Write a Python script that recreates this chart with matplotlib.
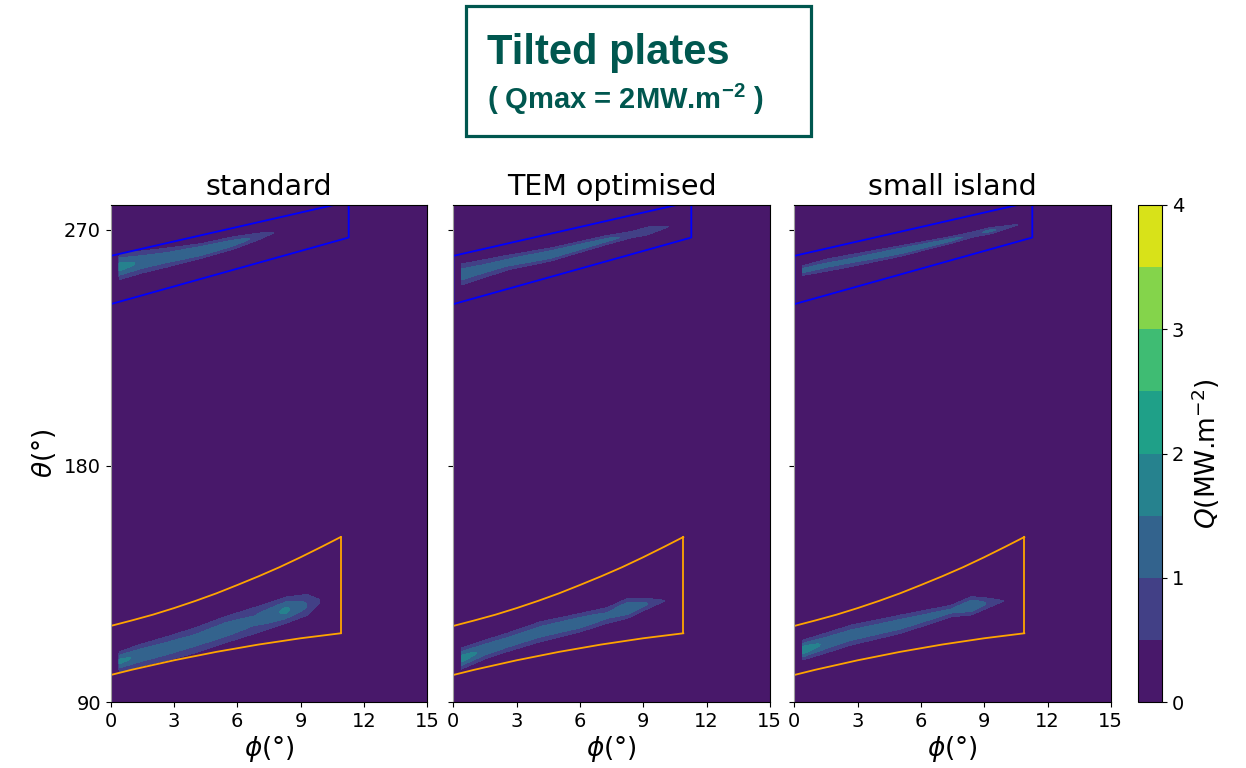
import numpy as np
import matplotlib
matplotlib.use("Agg")
import matplotlib.pyplot as plt
from matplotlib.patches import Rectangle

plt.rcParams["mathtext.fontset"] = "dejavusans"
plt.rcParams["mathtext.rm"] = "Liberation Sans:bold"
plt.rcParams["mathtext.it"] = "Liberation Sans:bold"
plt.rcParams["mathtext.bf"] = "Liberation Sans:bold"

# ---------------------------------------------------------------- data
panel_titles = ["standard", "TEM optimised", "small island"]
q_levels = [0, 0.5, 1, 1.5, 2, 2.5, 3, 3.5, 4]
q_ticks = [0, 1, 2, 3, 4]
phi_ticks = [0, 3, 6, 9, 12, 15]
theta_ticks = [90, 180, 270]

# outline of the upper (blue) plate, (phi, theta) corners
blue_phi = [0.0, 11.28, 11.28, 0.0, 0.0]
blue_theta = [241.7, 267.1, 280.8, 260.1, 241.7]

# outline of the lower (orange) plate
orange_phi = [0, 1, 2, 3, 4, 5, 6, 7, 8, 9, 10, 10.9]
orange_upper = [119.0, 121.1, 123.3, 125.8, 128.5, 131.4, 134.6, 137.9, 141.4, 145.2, 149.2, 152.9]
orange_lower = [100.3, 102.3, 104.1, 105.9, 107.5, 109.1, 110.5, 111.9, 113.1, 114.3, 115.3, 116.2]

# heat-flux footprints: centre line, half width (at 0.5 MW/m2) and peak value
std_top_phi = [0.4, 1.5, 2.7, 4.3, 5.8, 7.0, 7.7]
std_top_centre = [256.0, 257.8, 259.5, 262.0, 265.0, 267.5, 268.9]
std_top_hw = [5.0, 4.2, 3.6, 2.8, 2.4, 1.3, 0.15]
std_top_peak = [1.7, 1.4, 1.3, 1.5, 1.2, 0.9, 0.6]

std_bot_phi = [0.4, 1.5, 2.7, 4.0, 5.4, 6.8, 8.3, 9.3, 9.9]
std_bot_centre = [105.4, 108.0, 110.5, 113.5, 117.5, 121.0, 125.0, 127.0, 128.5]
std_bot_hw = [3.8, 4.2, 4.5, 4.8, 5.0, 5.0, 5.0, 4.0, 0.6]
std_bot_peak = [1.6, 1.4, 1.3, 1.2, 1.3, 1.1, 1.6, 1.0, 0.6]

tem_top_phi = [0.37, 1.5, 2.55, 4.6, 7.3, 8.5, 9.2, 10.2]
tem_top_centre = [253.0, 255.3, 257.5, 260.6, 266.2, 268.3, 269.6, 271.3]
tem_top_hw = [4.0, 3.4, 2.8, 2.5, 1.7, 1.2, 1.5, 0.15]
tem_top_peak = [1.3, 1.2, 1.2, 1.4, 1.1, 0.9, 1.0, 0.6]

tem_bot_phi = [0.37, 1.5, 2.55, 4.13, 6.03, 7.3, 8.25, 9.2, 10.0]
tem_bot_centre = [106.5, 110.0, 112.7, 116.8, 120.3, 123.0, 125.7, 127.5, 128.6]
tem_bot_hw = [4.0, 3.6, 3.5, 3.8, 3.5, 3.0, 3.8, 2.0, 0.2]
tem_bot_peak = [1.7, 1.4, 1.3, 1.3, 1.4, 1.1, 1.5, 1.0, 0.6]

isl_top_phi = [0.4, 1.5, 2.69, 5.06, 7.44, 8.5, 9.3, 10.6]
isl_top_centre = [254.5, 256.5, 258.3, 262.0, 266.2, 268.3, 269.7, 272.0]
isl_top_hw = [1.8, 2.3, 2.3, 2.0, 1.3, 1.0, 1.2, 0.12]
isl_top_peak = [1.2, 1.1, 1.1, 1.3, 1.1, 0.9, 1.1, 0.6]

isl_bot_phi = [0.4, 1.5, 2.69, 5.06, 7.44, 8.4, 9.2, 9.9]
isl_bot_centre = [109.8, 112.5, 115.5, 119.7, 124.7, 126.7, 127.8, 128.5]
isl_bot_hw = [3.8, 3.8, 3.8, 3.5, 2.2, 3.5, 1.8, 0.15]
isl_bot_peak = [1.8, 1.4, 1.3, 1.3, 1.1, 1.5, 0.9, 0.6]

panels = [
    [(std_top_phi, std_top_centre, std_top_hw, std_top_peak),
     (std_bot_phi, std_bot_centre, std_bot_hw, std_bot_peak)],
    [(tem_top_phi, tem_top_centre, tem_top_hw, tem_top_peak),
     (tem_bot_phi, tem_bot_centre, tem_bot_hw, tem_bot_peak)],
    [(isl_top_phi, isl_top_centre, isl_top_hw, isl_top_peak),
     (isl_bot_phi, isl_bot_centre, isl_bot_hw, isl_bot_peak)],
]

# ---------------------------------------------------------------- grid
phi = np.linspace(0, 15, 751)
theta = np.linspace(90, 280, 951)
PHI, THETA = np.meshgrid(phi, theta)


def footprint(p, c, hw, pk):
    peak = np.interp(phi, p, pk, left=0.0, right=0.0)
    centre = np.interp(phi, p, c)
    half = np.interp(phi, p, hw)
    d = (THETA - centre[None, :]) / half[None, :]
    pk2 = np.maximum(peak, 1e-6)[None, :]
    q = pk2 * np.exp(d ** 2 * np.log(0.5 / np.maximum(pk2, 0.501)))
    q[:, peak <= 0] = 0.0
    return q


# ---------------------------------------------------------------- figure
fig = plt.figure(figsize=(12.46, 7.68), dpi=100)
W, H = 1246.0, 768.0
lefts = [110.7, 453.3, 794.3]
ax_w = 316.5
ax_top, ax_bot = 205.0, 702.0

cmap = plt.get_cmap("viridis")
cs = None
for i, (title, stripes) in enumerate(zip(panel_titles, panels)):
    ax = fig.add_axes([lefts[i] / W, 1 - ax_bot / H, ax_w / W, (ax_bot - ax_top) / H])
    Q = np.zeros_like(PHI)
    for s in stripes:
        Q = np.maximum(Q, footprint(*s))
    cs = ax.contourf(PHI, THETA, Q, levels=q_levels, cmap=cmap)
    ax.plot(blue_phi, blue_theta, color="#0000ff", lw=1.3)
    ax.plot(orange_phi, orange_upper, color="#ffa500", lw=1.3)
    ax.plot(orange_phi, orange_lower, color="#ffa500", lw=1.3)
    ax.plot([orange_phi[-1]] * 2, [orange_lower[-1], orange_upper[-1]], color="#ffa500", lw=1.3)
    ax.plot([0, 0], [orange_lower[0], orange_upper[0]], color="#ffa500", lw=1.3)
    ax.set_xlim(0, 15)
    ax.set_ylim(90, 279.5)
    ax.set_xticks(phi_ticks)
    ax.set_yticks(theta_ticks)
    ax.tick_params(labelsize=14)
    ax.spines["left"].set_color("#a0a0a0")
    ax.set_title(title, fontsize=20.5, pad=7)
    ax.set_xlabel(r"$\phi(°)$", fontsize=19, labelpad=2)
    if i == 0:
        ax.set_ylabel(r"$\theta(°)$", fontsize=19, labelpad=4)
    else:
        ax.set_yticklabels([])

cax = fig.add_axes([1138 / W, 1 - ax_bot / H, 24 / W, (ax_bot - ax_top) / H])
cb = fig.colorbar(cs, cax=cax, ticks=q_ticks)
cb.ax.tick_params(labelsize=14)
cb.set_label(r"$Q$(MW.m$^{-2}$)", fontsize=19, labelpad=4)

# heading box
teal = "#00574f"
fig.patches.append(Rectangle((466 / W, 1 - 136 / H), 345 / W, 130 / H,
                             transform=fig.transFigure, fill=False,
                             edgecolor=teal, linewidth=2.3))
fig.text(487 / W, 1 - 64 / H, "Tilted plates", fontsize=30, fontweight="bold",
         family="Liberation Sans", color=teal, va="baseline", ha="left")
fig.text(487 / W, 1 - 109 / H, r"( Qmax = 2MW.m$^{\mathregular{-2}}$ )", fontsize=21,
         fontweight="bold", family="Liberation Sans", color=teal,
         va="baseline", ha="left", math_fontfamily="custom")

fig.savefig("out.png", dpi=100)
